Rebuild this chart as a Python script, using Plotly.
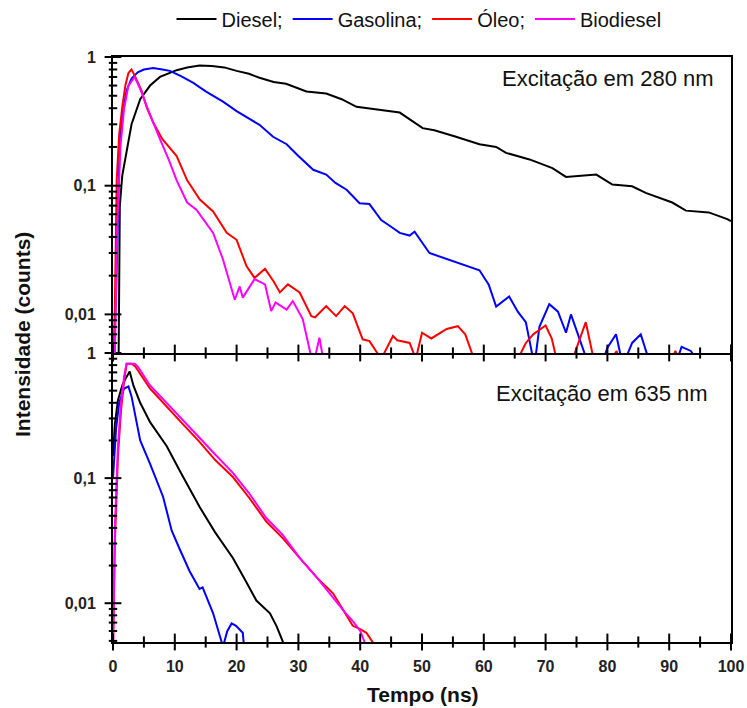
import plotly.graph_objects as go

# ---------------- data: excitation 280 nm (top panel) ----------------
t_diesel_280 = [0.9, 1.1, 1.5, 2.2, 3.0, 4.4, 6.0, 7.6, 10.3, 12, 14, 16, 18, 20, 22, 23.7, 26, 28,
                31.3, 34.5, 37, 39.4, 43.1, 46.4, 50.1, 52, 55.5, 59.3, 62, 63.6, 67.4, 71.1, 73.3,
                76, 78.2, 80.8, 84, 86.2, 90.5, 92.7, 96.4, 99.4, 100]
y_diesel_280 = [0.004, 0.069, 0.12, 0.19, 0.3, 0.47, 0.6, 0.70, 0.79, 0.83, 0.86, 0.85, 0.83, 0.78,
                0.74, 0.69, 0.64, 0.62, 0.54, 0.52, 0.47, 0.41, 0.39, 0.37, 0.28, 0.27, 0.24, 0.21,
                0.20, 0.18, 0.16, 0.137, 0.117, 0.12, 0.122, 0.102, 0.099, 0.088, 0.074, 0.064,
                0.062, 0.055, 0.053]

t_gas_280 = [0.2, 0.3, 0.5, 0.7, 1.1, 1.6, 2.2, 3.0, 4.0, 5.0, 6.5, 8.0, 9.2, 11, 13, 15, 17.8, 20,
             22, 23.7, 25.9, 28.1, 30, 31.8, 32.4, 34.5, 36, 37.8, 39.9, 41.5, 43.4, 45, 46.4, 48,
             48.8, 51.2, 54, 57, 59.3, 60.8, 62, 64.1, 65.5, 66.8, 68.2, 69, 70.6, 72, 73.3, 74.1,
             75, 77, 79, 80, 81.4, 82.5, 84, 85.4, 87, 91, 92, 93.5, 95]
y_gas_280 = [0.003, 0.0077, 0.015, 0.038, 0.23, 0.38, 0.55, 0.68, 0.76, 0.80, 0.82, 0.80, 0.78, 0.71,
             0.63, 0.54, 0.45, 0.38, 0.33, 0.297, 0.24, 0.21, 0.17, 0.141, 0.133, 0.122, 0.105,
             0.093, 0.073, 0.072, 0.054, 0.048, 0.043, 0.041, 0.044, 0.030, 0.027, 0.024, 0.022,
             0.017, 0.0115, 0.0138, 0.0105, 0.0087, 0.004, 0.008, 0.012, 0.0105, 0.0072, 0.010,
             0.0076, 0.004, 0.004, 0.0055, 0.0070, 0.004, 0.006, 0.007, 0.004, 0.004, 0.0056,
             0.0052, 0.004]

t_oleo_280 = [0, 0.3, 0.6, 1.0, 1.5, 2.0, 2.5, 3.0, 3.5, 4.6, 5.5, 6.5, 8.0, 10.3, 12, 14.05, 16.2,
              18.4, 20, 21.6, 22.9, 24.6, 26, 27, 28.3, 30.2, 32.1, 32.7, 34.5, 36.1, 37.5, 38.8,
              40.4, 41.5, 43.4, 45.3, 46, 48, 49, 50, 51.5, 54, 55.8, 57, 58.8, 60, 65, 66.8, 68,
              70, 71, 72, 74, 76.5, 78, 80, 81.5, 82, 90, 91, 92]
y_oleo_280 = [0.003, 0.0116, 0.11, 0.25, 0.41, 0.6, 0.75, 0.80, 0.72, 0.55, 0.40, 0.31, 0.23, 0.17,
              0.11, 0.078, 0.063, 0.043, 0.038, 0.0237, 0.0192, 0.0226, 0.018, 0.0148, 0.0171,
              0.0148, 0.0097, 0.0095, 0.0116, 0.0097, 0.0116, 0.0102, 0.0064, 0.0062, 0.0045,
              0.0068, 0.0063, 0.006, 0.0045, 0.0072, 0.0065, 0.0077, 0.0081, 0.0070, 0.004, 0.004,
              0.004, 0.006, 0.007, 0.0082, 0.0065, 0.004, 0.004, 0.0087, 0.004, 0.004, 0.0052,
              0.004, 0.004, 0.0052, 0.004]

t_bio_280 = [0.3, 0.7, 1.2, 1.8, 2.5, 3.5, 4.5, 5.5, 7.6, 9, 10.3, 12, 13.5, 14.05, 15.7, 16.2, 17.8,
             18.9, 19.7, 20.5, 21, 22.9, 24.6, 25.6, 26.3, 28.1, 29.1, 30.7, 32.4, 33.4, 34.2]
y_bio_280 = [0.005, 0.05, 0.2, 0.4, 0.6, 0.70, 0.55, 0.41, 0.23, 0.16, 0.11, 0.074, 0.065, 0.0596,
             0.046, 0.043, 0.0267, 0.0176, 0.013, 0.0165, 0.0135, 0.0188, 0.0171, 0.0106, 0.0124,
             0.0109, 0.0127, 0.0092, 0.004, 0.0066, 0.004]

# ---------------- data: excitation 635 nm (bottom panel) ----------------
t_diesel_635 = [0, 0.3, 0.8, 1.5, 2.0, 2.7, 3.3, 4.4, 6, 8.7, 11, 14, 16.5, 19.4, 21.5, 23.2, 25.4,
                26.5, 27.5, 28.5]
y_diesel_635 = [0.15, 0.27, 0.42, 0.55, 0.62, 0.71, 0.55, 0.40, 0.28, 0.18, 0.11, 0.059, 0.037,
                0.023, 0.015, 0.0105, 0.0083, 0.0065, 0.0049, 0.004]

t_gas_635 = [0, 0.5, 1.0, 1.8, 2.5, 3.0, 4.4, 6.0, 8.1, 9.5, 10.8, 12.4, 14.0, 14.5, 16.2, 17.8,
             18.5, 19.2, 19.9, 21.0, 21.2]
y_gas_635 = [0.1, 0.25, 0.4, 0.52, 0.54, 0.45, 0.2, 0.13, 0.071, 0.038, 0.027, 0.018, 0.013, 0.0134,
             0.0083, 0.0045, 0.0060, 0.0069, 0.0066, 0.0058, 0.0045]

t_oleo_635 = [0, 0.3, 0.8, 1.3, 1.8, 2.2, 3.0, 3.6, 6, 8.7, 11, 14, 16.5, 19.4, 22, 24.8, 27.5, 30.2,
              33, 35.6, 37.5, 38.8, 40, 41, 42, 42.5]
y_oleo_635 = [0.004, 0.03, 0.15, 0.35, 0.6, 0.82, 0.82, 0.78, 0.52, 0.37, 0.28, 0.195, 0.14, 0.102,
              0.07, 0.045, 0.033, 0.023, 0.016, 0.012, 0.0085, 0.0066, 0.0062, 0.0058, 0.0049, 0.004]

t_bio_635 = [0, 0.3, 0.8, 1.3, 1.8, 2.2, 3.5, 4.0, 6, 8.7, 11, 14, 16.5, 19.4, 22, 24.8, 27.5, 30.2,
             33, 35.6, 37.5, 39, 40, 41]
y_bio_635 = [0.004, 0.04, 0.18, 0.4, 0.65, 0.82, 0.82, 0.78, 0.55, 0.40, 0.30, 0.21, 0.155, 0.11,
             0.076, 0.048, 0.035, 0.023, 0.016, 0.011, 0.0085, 0.007, 0.006, 0.0045]

names = ["Diesel;", "Gasolina;", "Óleo;", "Biodiesel"]
colors = ["#000000", "#0000FF", "#FF0000", "#FF00FF"]

x_major = [0, 10, 20, 30, 40, 50, 60, 70, 80, 90, 100]
x_minor = [5, 15, 25, 35, 45, 55, 65, 75, 85, 95]
y_major = [0.01, 0.1, 1]
y_major_text = ["0,01", "0,1", "1"]
y_minor = [0.004, 0.005, 0.006, 0.007, 0.008, 0.009,
           0.02, 0.03, 0.04, 0.05, 0.06, 0.07, 0.08, 0.09,
           0.2, 0.3, 0.4, 0.5, 0.6, 0.7, 0.8, 0.9]

FONT = "Liberation Sans, Arial, sans-serif"
X_RANGE = [0, 100]
TOP_RANGE = [-2.3, 0]
BOT_RANGE = [-2.31, 0]

W, H = 747, 708
ML, MR, MT, MB = 113, 16, 57, 66
PAPER_W = W - ML - MR
PAPER_H = H - MT - MB


def px_x(px):
    return (px - ML) / PAPER_W


def px_y(py):
    return (H - MB - py) / PAPER_H


fig = go.Figure()

top = [(t_diesel_280, y_diesel_280), (t_gas_280, y_gas_280),
       (t_oleo_280, y_oleo_280), (t_bio_280, y_bio_280)]
bottom = [(t_diesel_635, y_diesel_635), (t_gas_635, y_gas_635),
          (t_oleo_635, y_oleo_635), (t_bio_635, y_bio_635)]

for i, (t, y) in enumerate(top):
    fig.add_trace(go.Scatter(x=t, y=y, mode="lines", name=names[i],
                             line=dict(color=colors[i], width=2),
                             xaxis="x2", yaxis="y", showlegend=True))
for i, (t, y) in enumerate(bottom):
    fig.add_trace(go.Scatter(x=t, y=y, mode="lines", name=names[i],
                             line=dict(color=colors[i], width=2),
                             xaxis="x", yaxis="y2", showlegend=False))


# ---- tick marks, drawn as line markers through the axes' own scales ----
def tick_trace(xs, ys, symbol, length, xa, ya):
    return go.Scatter(x=xs, y=ys, mode="markers", xaxis=xa, yaxis=ya, showlegend=False,
                      hoverinfo="skip", cliponaxis=False,
                      marker=dict(symbol=symbol, size=length, color="black",
                                  line=dict(color="black", width=2)))


for xa, ya, rng in [("x2", "y", TOP_RANGE), ("x", "y2", BOT_RANGE)]:
    ybase = 10 ** rng[0]
    # x ticks crossing the bottom line of each panel
    fig.add_trace(tick_trace(x_major, [ybase] * len(x_major), "line-ns", 12, xa, ya))
    fig.add_trace(tick_trace(x_minor, [ybase] * len(x_minor), "line-ns", 8, xa, ya))
    # y ticks centred on the left axis line
    fig.add_trace(tick_trace([X_RANGE[0]] * len(y_major), y_major, "line-ew", 12, xa, ya))
    yminor_in = [v for v in y_minor if v >= ybase]
    fig.add_trace(tick_trace([X_RANGE[0]] * len(yminor_in), yminor_in, "line-ew", 6, xa, ya))

split = px_y(353)

tickfont = dict(family=FONT, size=16, color="#222", weight="bold")

xbase = dict(range=X_RANGE, showgrid=False, zeroline=False, showline=True, linecolor="black",
             linewidth=2, tickmode="array", tickvals=x_major, ticks="", automargin=False,
             domain=[0, 1])
ybase_ax = dict(type="log", showgrid=False, zeroline=False, showline=True, linecolor="black",
                linewidth=2, tickmode="array", tickvals=y_major, ticktext=y_major_text,
                ticks="", tickfont=tickfont, ticklabelstandoff=12, mirror=True,
                automargin=False)

fig.update_layout(
    width=W, height=H,
    margin=dict(l=ML, r=MR, t=MT, b=MB, autoexpand=False),
    paper_bgcolor="white", plot_bgcolor="white",
    font=dict(family=FONT, color="#111"),
    xaxis=dict(**xbase, anchor="y2", showticklabels=True, tickfont=tickfont,
               ticklabelstandoff=9),
    xaxis2=dict(**xbase, anchor="y", matches="x", showticklabels=False, mirror=True),
    yaxis=dict(**ybase_ax, domain=[split, 1], anchor="x2", range=TOP_RANGE),
    yaxis2=dict(**ybase_ax, domain=[0, split], anchor="x", range=BOT_RANGE),
    legend=dict(orientation="h", x=419 / W, xanchor="center", xref="container",
                y=1 - 19 / H, yref="container", yanchor="middle",
                font=dict(family=FONT, size=20, color="#111"),
                bgcolor="rgba(0,0,0,0)", itemwidth=40, tracegroupgap=0),
    showlegend=True,
)

fig.add_annotation(text="Excitação em 280 nm", xref="paper", yref="paper",
                   x=px_x(716), y=px_y(79), xanchor="right",
                   yanchor="middle", showarrow=False,
                   font=dict(family=FONT, size=22, color="#111"))
fig.add_annotation(text="Excitação em 635 nm", xref="paper", yref="paper",
                   x=px_x(710), y=px_y(393), xanchor="right",
                   yanchor="middle", showarrow=False,
                   font=dict(family=FONT, size=22, color="#111"))
fig.add_annotation(text="Intensidade (counts)", xref="paper", yref="paper",
                   x=px_x(22), y=px_y(335), xanchor="center",
                   yanchor="middle", textangle=-90, showarrow=False,
                   font=dict(family=FONT, size=21, color="#111", weight="bold"))
fig.add_annotation(text="Tempo (ns)", xref="paper", yref="paper",
                   x=px_x(423), y=px_y(695), xanchor="center",
                   yanchor="middle", showarrow=False,
                   font=dict(family=FONT, size=21, color="#111", weight="bold"))

fig.write_html("out.html")
